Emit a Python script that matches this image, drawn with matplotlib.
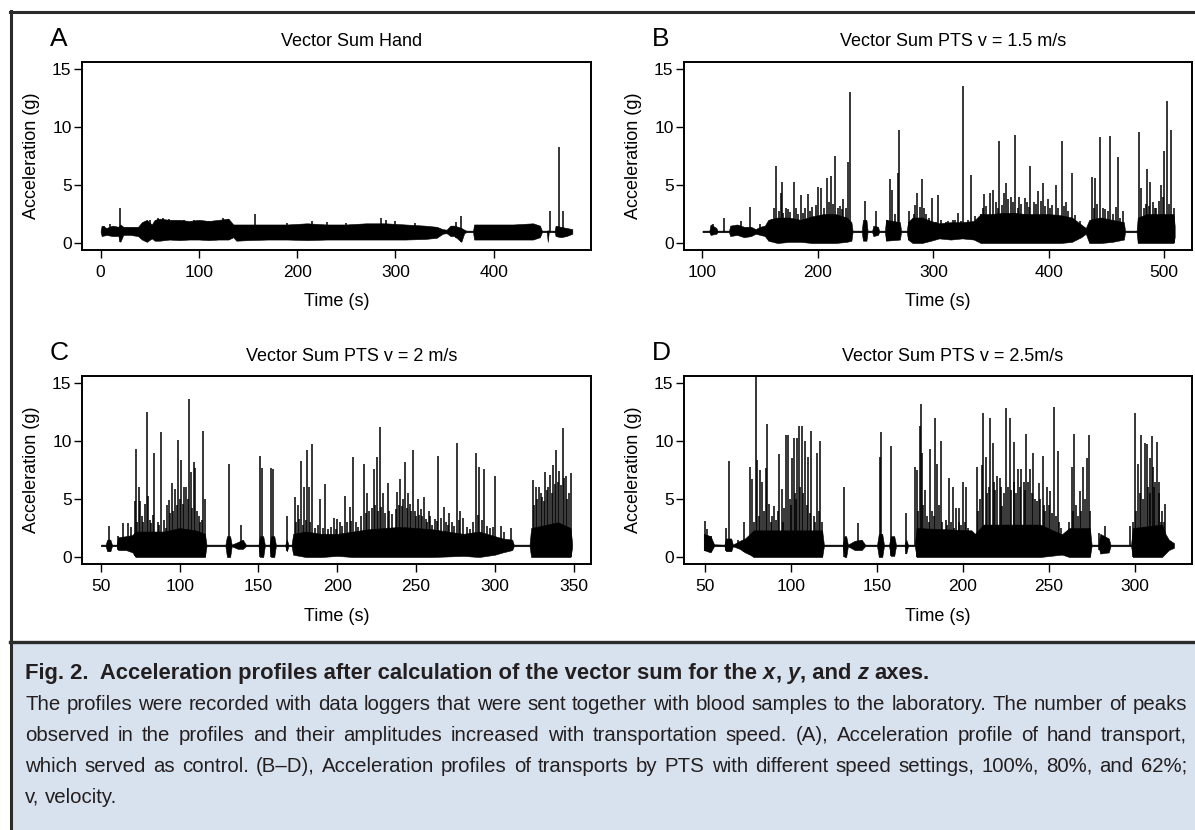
import numpy as np
import matplotlib.pyplot as plt
from matplotlib.lines import Line2D
from matplotlib.patches import Rectangle

plt.rcParams['font.family'] = ['Liberation Sans', 'DejaVu Sans']

W, H = 1195, 830

# ---- values ----
titles = ['Vector Sum Hand', 'Vector Sum PTS v = 1.5 m/s',
          'Vector Sum PTS v = 2 m/s', 'Vector Sum PTS v = 2.5m/s']
letters = ['A', 'B', 'C', 'D']
xticks = [[0, 100, 200, 300, 400], [100, 200, 300, 400, 500],
          [50, 100, 150, 200, 250, 300, 350], [50, 100, 150, 200, 250, 300]]
xlims = [(-19, 499), (84, 524), (38, 361), (37.5, 333.5)]
yticks = [0, 5, 10, 15]

# dense part of the trace: (time, lower edge, upper edge)
a_band = [(0, .93, 1.07), (1, .6, 1.5), (6, .7, 1.3), (12, .6, 1.5), (18, .6, 1.4), (20, .1, 1.6),
          (23, .7, 1.4), (30, .7, 1.4), (38, .6, 1.4), (42, .3, 1.8), (47, .1, 2.0), (52, .4, 1.6),
          (55, .2, 2.0), (60, .2, 2.1), (70, .3, 2.0), (80, .25, 2.0), (90, .3, 1.9), (100, .3, 2.0),
          (110, .25, 1.9), (120, .3, 2.0), (130, .3, 2.1), (135, .5, 1.6), (138, .2, 1.6),
          (150, .25, 1.6), (170, .3, 1.6), (190, .3, 1.6), (210, .25, 1.7), (230, .3, 1.6),
          (250, .3, 1.6), (270, .3, 1.7), (290, .3, 1.7), (310, .3, 1.6), (330, .35, 1.5),
          (342, .45, 1.4), (348, .8, 1.2), (352, .85, 1.15), (356, .6, 1.5), (360, .6, 1.5),
          (367, .1, 1.3), (370, .85, 1.15), (372, .93, 1.07), (379, .93, 1.07), (380, .3, 1.6),
          (400, .3, 1.6), (420, .3, 1.6), (440, .3, 1.7), (447, .5, 1.5), (449, .93, 1.07),
          (454, .93, 1.07), (455, .1, 1.1), (456, .93, 1.07), (462, .93, 1.07), (463, .6, 1.5),
          (468, .5, 1.4), (474, .6, 1.3), (480, .8, 1.2)]
b_band = [(100, .93, 1.07), (106, .93, 1.07), (107, .7, 1.6), (112, .8, 1.3), (113, .93, 1.07),
          (123, .93, 1.07), (124, .6, 1.5), (130, .7, 1.6), (136, .5, 1.4), (142, .6, 1.4),
          (146, .8, 1.2), (150, .7, 1.4), (154, .6, 1.5), (157, .2, 2.0), (165, 0, 2.2),
          (175, .1, 2.2), (185, .1, 2.0), (195, 0, 2.3), (205, 0, 2.5), (215, 0, 2.5),
          (225, .1, 2.2), (229, .2, 1.8), (230, .93, 1.07), (238, .93, 1.07), (239, .2, 2.0),
          (242, .2, 2.0), (243, .93, 1.07), (247, .93, 1.07), (248, .6, 1.5), (252, .7, 1.4),
          (253, .93, 1.07), (258, .93, 1.07), (259, .2, 2.0), (271, .3, 1.8), (272, .93, 1.07),
          (277, .93, 1.07), (278, .3, 1.8), (282, 0, 2.2), (290, 0, 2.2), (298, .2, 1.9),
          (305, .4, 1.7), (315, .3, 1.8), (325, .4, 1.8), (335, .3, 1.9), (341, 0, 2.5),
          (350, 0, 2.5), (360, 0, 2.6), (370, 0, 2.6), (380, 0, 2.5), (390, 0, 2.5),
          (400, 0, 2.5), (410, 0, 2.4), (420, .1, 2.2), (428, .5, 1.6), (432, .8, 1.3),
          (435, 0, 2.0), (445, 0, 2.2), (455, .1, 2.0), (465, .3, 1.8), (466, .93, 1.07),
          (476, .93, 1.07), (477, 0, 2.2), (485, 0, 2.5), (495, 0, 2.5), (508, 0, 2.5),
          (509, .5, 1.5)]
c_band = [(50, .93, 1.07), (53, .93, 1.07), (54, .5, 1.5), (56, .5, 1.5), (57, .93, 1.07),
          (60, .93, 1.07), (61, .6, 1.7), (66, .6, 1.8), (70, .4, 1.9), (72, 0, 2.2),
          (90, 0, 2.2), (100, 0, 2.5), (110, 0, 2.3), (116, 0, 2.0), (117, .93, 1.07),
          (129, .93, 1.07), (130, 0, 1.8), (132, 0, 1.8), (133, .93, 1.07), (137, .7, 1.3),
          (140, .7, 1.5), (142, .93, 1.07), (150, .93, 1.07), (151, 0, 1.8), (153, 0, 1.8),
          (154, .93, 1.07), (157, .93, 1.07), (158, 0, 1.8), (160, 0, 1.8), (161, .93, 1.07),
          (167, .93, 1.07), (168, .5, 1.5), (169, .93, 1.07), (171, .93, 1.07), (172, .2, 2.0),
          (180, 0, 2.2), (190, 0, 2.0), (200, .1, 2.0), (210, 0, 2.2), (220, 0, 2.4),
          (240, 0, 2.6), (260, 0, 2.4), (280, .1, 2.0), (290, 0, 2.2), (300, .2, 1.8),
          (305, .4, 1.6), (311, .6, 1.5), (312, .93, 1.07), (322, .93, 1.07), (323, 0, 2.5),
          (340, 0, 3.0), (348, 0, 2.5), (349, .8, 1.2)]
d_band = [(49, .6, 2.0), (53, .4, 1.8), (55, .93, 1.1), (61, .93, 1.07), (62, .5, 1.6),
          (65, .5, 1.6), (66, .93, 1.07), (70, .7, 1.4), (73, .4, 1.6), (76, .2, 2.0),
          (78, 0, 2.3), (118, 0, 2.3), (119, .93, 1.07), (130, .93, 1.07), (131, 0, 1.8),
          (132, 0, 1.8), (133, .93, 1.07), (137, .6, 1.4), (141, .6, 1.5), (143, .93, 1.07),
          (150, .93, 1.07), (151, 0, 2.0), (153, 0, 2.0), (154, .93, 1.07), (157, .93, 1.07),
          (158, .1, 1.8), (160, .1, 1.8), (161, .93, 1.07), (166, .93, 1.07), (167, .3, 1.5),
          (168, .93, 1.07), (172, .93, 1.07), (173, 0, 2.5), (205, 0, 2.3), (207, 0, 2.0),
          (212, 0, 2.8), (245, 0, 2.8), (257, .2, 2.0), (258, .2, 2.0), (262, 0, 2.5),
          (274, 0, 2.5), (275, .93, 1.07), (279, .93, 1.07), (280, .3, 2.0), (285, .4, 1.6),
          (286, .93, 1.07), (298, .93, 1.07), (299, 0, 2.5), (316, 0, 2.8), (318, .3, 2.0),
          (320, .6, 1.5), (323, .8, 1.2)]

# peaks: (time, peak acceleration)
a_peaks = [(3, 1.5), (10, 1.6), (20, 3.0), (50, 2.0), (58, 2.2), (63, 2.2), (70, 2.1),
           (85, 2.0), (95, 2.0), (110, 1.9), (125, 2.2), (130, 2.1), (157, 2.5), (190, 1.7),
           (215, 1.9), (230, 1.8), (250, 1.7), (285, 2.2), (290, 2.0), (300, 1.9), (320, 1.7),
           (362, 1.8), (367, 2.3), (457, 2.8), (466, 8.3), (470, 2.8)]
b_peaks = [(109, 1.6), (119, 2.2), (133, 1.9), (141, 3.1), (150, 1.6), (160, 2.1), (164, 6.6),
           (168, 4.3), (169, 5.3), (172, 3.0), (179, 5.3), (185, 4.1), (191, 4.2), (198, 3.3),
           (200, 4.8), (203, 4.7), (208, 5.6), (211, 5.8), (215, 7.5), (219, 3.2), (222, 3.8),
           (226, 7.0), (228, 13.0), (241, 3.6), (250, 2.8), (262, 5.5), (264, 4.6), (269, 6.0),
           (270, 9.7), (279, 2.8), (284, 3.3), (286, 4.3), (290, 5.5), (294, 2.5), (299, 3.9),
           (304, 4.1), (311, 1.8), (317, 2.0), (321, 2.6), (326, 13.5), (333, 5.9), (341, 2.5),
           (344, 4.2), (349, 4.3), (352, 4.6), (357, 8.8), (361, 4.3), (363, 5.2), (367, 4.0),
           (371, 9.3), (374, 4.0), (379, 3.9), (384, 6.6), (387, 3.5), (391, 4.5), (395, 5.2),
           (399, 3.8), (406, 5.0), (411, 8.8), (415, 3.5), (420, 6.0), (427, 1.9), (437, 5.7),
           (440, 5.6), (444, 9.1), (449, 2.9), (453, 9.2), (460, 7.4), (464, 2.8), (478, 9.6),
           (480, 4.7), (485, 6.4), (488, 5.3), (493, 3.0), (497, 5.0), (500, 7.9), (502, 12.2),
           (506, 9.7),
           # smaller strokes inside the dense stretches
           (162, 3.0), (166, 2.8), (170, 2.6), (174, 2.9), (176, 2.7), (181, 3.0), (183, 2.5),
           (187, 2.6), (189, 3.0), (193, 2.8), (195, 3.1), (205, 3.0), (210, 3.5), (213, 3.4),
           (217, 3.0), (221, 2.9), (224, 3.0), (260, 2.0), (267, 2.5), (283, 2.5), (288, 3.1),
           (292, 3.0), (296, 2.2), (302, 1.8), (307, 2.0), (313, 1.9), (319, 2.0), (324, 1.9),
           (330, 2.0), (336, 2.3), (343, 3.0), (346, 3.2), (354, 3.5), (356, 3.0), (359, 3.3),
           (365, 3.8), (369, 3.5), (373, 3.0), (376, 3.4), (381, 3.5), (383, 3.1), (389, 3.4),
           (393, 3.6), (397, 3.2), (401, 3.0), (403, 3.3), (408, 3.0), (413, 3.2), (417, 2.8),
           (423, 2.4), (439, 3.0), (442, 3.4), (447, 3.0), (451, 2.8), (456, 2.5), (458, 3.1),
           (462, 2.2), (482, 3.0), (484, 3.4), (487, 3.2), (490, 3.5), (492, 3.0), (495, 3.6),
           (499, 4.0), (504, 3.4), (508, 3.0)]
c_peaks = [(55, 2.7), (61, 1.8), (64, 2.9), (67, 2.9), (69, 2.6), (71.5, 4.8), (72, 9.3),
           (74, 6.0), (75, 4.8), (78, 4.6), (79, 12.5), (80, 5.3), (83, 3.6), (84, 9.0),
           (88, 10.8), (93, 4.9), (95, 6.4), (97, 5.9), (99, 10.1), (101, 8.4), (103, 6.0),
           (104, 6.0), (106, 13.6), (107, 7.3), (109, 8.2), (110, 7.7), (115, 10.9), (116, 5.0),
           (131, 8.0), (139, 2.8), (151, 8.7), (152, 7.7), (158, 7.7), (159, 7.6), (168, 3.5),
           (173, 5.2), (175, 4.5), (177, 8.3), (179, 6.0), (181, 9.2), (182, 6.0), (184, 9.7),
           (189, 5.0), (192, 6.3), (198, 3.4), (200, 3.3), (202, 3.0), (205, 5.3), (208, 4.3),
           (210, 8.6), (213, 2.6), (217, 8.0), (219, 5.5), (223, 7.6), (225, 8.6), (227, 11.2),
           (229, 5.5), (232, 6.4), (238, 5.6), (240, 6.7), (243, 8.2), (245, 5.5), (248, 9.2),
           (251, 5.0), (253, 4.1), (255, 5.2), (258, 4.0), (260, 2.8), (264, 8.7), (268, 4.3),
           (271, 3.8), (276, 9.8), (278, 4.0), (284, 2.4), (288, 9.0), (290, 7.8), (293, 7.6),
           (300, 7.0), (304, 2.7), (306, 2.2), (310, 2.5), (324, 6.6), (326, 6.0), (328, 6.0),
           (332, 7.3), (335, 7.1), (337, 7.9), (339, 9.2), (341, 7.4), (343, 11.1), (345, 7.0),
           (348, 7.2),
           (73, 3.0), (76, 3.5), (77, 3.0), (81, 3.2), (82, 2.9), (86, 3.0), (87, 2.8), (90, 3.2),
           (91, 2.5), (92, 4.5), (94, 3.8), (96, 4.0), (98, 4.5), (100, 5.0), (102, 4.6),
           (105, 5.0), (108, 4.2), (111, 4.0), (112, 3.5), (113, 3.0), (114, 3.2), (174, 3.0),
           (176, 3.3), (178, 2.8), (180, 3.2), (183, 3.0), (186, 2.5), (188, 2.8), (191, 2.5),
           (194, 2.4), (196, 2.6), (199, 2.4), (203, 2.7), (206, 3.0), (209, 3.1), (212, 3.0),
           (215, 3.5), (218, 3.8), (220, 4.0), (222, 4.2), (224, 4.5), (226, 4.0), (228, 4.3),
           (230, 3.8), (233, 4.0), (235, 3.7), (237, 4.1), (239, 4.5), (241, 4.4), (242, 5.0),
           (244, 4.2), (246, 4.6), (247, 4.0), (249, 4.0), (250, 3.5), (252, 3.6), (254, 3.5),
           (256, 3.3), (257, 3.0), (259, 3.5), (262, 3.3), (263, 3.1), (266, 3.4), (269, 3.0),
           (270, 2.8), (273, 3.0), (274, 2.7), (277, 3.2), (280, 3.4), (282, 2.6), (286, 3.0),
           (289, 3.6), (292, 3.2), (295, 2.7), (297, 2.5), (299, 2.6), (325, 4.5), (327, 5.0),
           (329, 5.5), (330, 5.2), (331, 4.8), (333, 5.8), (334, 6.0), (336, 5.5), (338, 6.3),
           (340, 6.5), (342, 6.2), (344, 6.8), (346, 5.0), (347, 5.5)]
d_peaks = [(50, 3.1), (51, 2.4), (53, 1.8), (62, 2.5), (64, 8.3), (69, 1.5), (72.5, 3.0),
           (76, 7.8), (77, 6.7), (79.5, 16.0), (80, 8.4), (82, 7.5), (83, 6.5), (85, 7.7),
           (86, 11.5), (87, 4.6), (90, 4.4), (93, 8.9), (94.5, 5.9), (97, 10.5), (98, 10.5),
           (100.5, 8.5), (101.5, 10.3), (103.5, 10.3), (104.5, 11.3), (106, 11.3), (108, 10.0),
           (110, 8.6), (111.5, 10.9), (115, 9.0), (117, 10.0), (131, 6.0), (139, 2.9),
           (151.5, 8.6), (152, 10.8), (158, 9.6), (167, 3.8), (172, 7.8), (173.5, 7.5),
           (175, 11.3), (175.5, 13.2), (176, 9.0), (178, 5.8), (181, 9.3), (184, 12.0), (185, 8.0),
           (187.5, 10.0), (192, 6.8), (194, 6.0), (196, 4.2), (197.5, 4.2), (200, 6.5), (202, 6.0),
           (205.5, 2.0), (208, 7.8), (211, 7.9), (212, 12.4), (213.5, 8.6), (216, 12.0),
           (217.5, 9.8), (220, 7.0), (221.5, 6.8), (223, 4.4), (225, 12.8), (227.5, 12.0),
           (229.5, 9.9), (232, 7.6), (234, 7.6), (235.5, 6.5), (237, 10.6), (239, 7.6), (241, 9.0),
           (244.5, 6.4), (246.5, 8.7), (249, 6.0), (251, 5.7), (253, 12.9), (255.5, 9.1),
           (261, 2.0), (263.5, 7.8), (265, 10.6), (268, 5.7), (270, 7.8), (272.5, 8.5),
           (273.5, 10.5), (279.5, 2.1), (283, 2.7), (297.5, 2.7), (300, 12.4), (302, 8.0),
           (304, 10.5), (306, 9.8), (307, 9.7), (309, 8.5), (310, 10.4), (311, 7.8), (313, 9.9),
           (314, 6.5), (315.5, 3.0), (318, 4.6),
           (78, 3.0), (81, 3.5), (84, 4.0), (88, 3.0), (89, 3.5), (91, 3.2), (92, 4.0), (95, 3.0),
           (96, 4.2), (99, 5.0), (100, 4.5), (102, 5.5), (103, 5.0), (105, 6.0), (107, 5.5),
           (109, 4.5), (111, 3.8), (113, 3.5), (114, 3.0), (116, 4.0), (118, 3.0), (174, 4.0),
           (177, 4.5), (179, 3.5), (180, 3.0), (182, 4.0), (183, 3.5), (186, 4.5), (188, 3.0),
           (190, 3.2), (191, 2.8), (193, 3.0), (195, 2.5), (198, 3.0), (199, 2.8), (201, 3.0),
           (203, 2.5), (204, 2.0), (209, 4.0), (210, 5.0), (214, 5.5), (215, 6.0), (218, 6.5),
           (219, 5.8), (222, 6.0), (224, 5.5), (226, 6.0), (228, 5.8), (230, 6.5), (231, 5.5),
           (233, 6.0), (236, 5.8), (238, 6.5), (240, 5.5), (242, 5.0), (243, 4.8), (245, 5.0),
           (247, 4.5), (248, 4.0), (250, 4.5), (252, 3.8), (254, 3.5), (256, 3.0), (257, 2.5),
           (262, 3.0), (264, 4.0), (266, 4.5), (267, 3.5), (269, 4.0), (271, 5.0), (274, 4.0),
           (299, 3.0), (301, 4.0), (303, 5.5), (305, 5.0), (308, 6.0), (309, 5.5), (311.5, 6.0),
           (312, 6.5), (314.5, 5.5), (316, 4.0), (317, 3.0)]

bands = [a_band, b_band, c_band, d_band]
peaks = [a_peaks, b_peaks, c_peaks, d_peaks]

caption_head = [('Fig. 2.  Acceleration profiles after calculation of the vector sum for the', 'normal'),
                ('x', 'italic'), (',', 'normal'), ('y', 'italic'), (', and', 'normal'),
                ('z', 'italic'), ('axes.', 'normal')]
caption_lines = [
    'The profiles were recorded with data loggers that were sent together with blood samples to the laboratory. The number of peaks',
    'observed in the profiles and their amplitudes increased with transportation speed. (A), Acceleration profile of hand transport,',
    'which served as control. (B\u2013D), Acceleration profiles of transports by PTS with different speed settings, 100%, 80%, and 62%;',
    'v, velocity.',
]

# ---- layout (pixels) ----
boxes = [(82, 591, 62, 250), (684, 1192, 62, 250), (82, 591, 376, 564), (684, 1192, 376, 564)]


def fx(px):
    return px / W


def fy(py):
    return 1 - py / H


fig = plt.figure(figsize=(W / 100, H / 100), dpi=100)

# frame and caption box
fig.add_artist(Rectangle((fx(11), 0), 1, fy(643), transform=fig.transFigure,
                         facecolor='#d8e1ee', edgecolor='none'))
fig.add_artist(Line2D([fx(10.5), fx(10.5)], [0, fy(11)], transform=fig.transFigure,
                      color='#2b2b2b', lw=2.2))
fig.add_artist(Line2D([fx(9.5), 1], [fy(12), fy(12)], transform=fig.transFigure,
                      color='#2b2b2b', lw=2.2))
fig.add_artist(Line2D([fx(9.5), 1], [fy(642), fy(642)], transform=fig.transFigure,
                      color='#2b2b2b', lw=2.4))

for i in range(4):
    l, r, t, b = boxes[i]
    ax = fig.add_axes([fx(l), fy(b), (r - l) / W, (b - t) / H])
    bt, blo, bhi = map(np.array, zip(*bands[i]))
    ax.fill_between(bt, blo, bhi, color='black', lw=0.4)
    pt, pv = map(np.array, zip(*peaks[i]))
    ax.vlines(pt, np.interp(pt, bt, blo), pv, color='black', lw=1.1)
    ax.set_xlim(*xlims[i])
    ax.set_ylim(-0.6, 15.6)
    ax.set_xticks(xticks[i])
    ax.set_yticks(yticks)
    ax.tick_params(direction='out', length=6, width=1, labelsize=12.5, colors='black')
    ax.tick_params(axis='y', pad=1.5)
    ax.tick_params(axis='x', pad=5)
    for s in ax.spines.values():
        s.set_linewidth(1.4)

    cx = (l + r) / 2
    fig.text(fx(l - 23), fy(t - 23), letters[i], fontsize=19, ha='center', va='center')
    fig.text(fx(cx + 15), fy(t - 20), titles[i], fontsize=13, ha='center', va='center')
    fig.text(fx(l - 50), fy((t + b) / 2), 'Acceleration (g)', fontsize=13,
             rotation=90, ha='center', va='center')
    fig.text(fx(cx), fy(b + 52), 'Time (s)', fontsize=13, ha='center', va='center')

# ---- caption ----
renderer = fig.canvas.get_renderer()
cap_color = '#231f20'
cap_x0, cap_x1 = 25, 1187


def width_of(s, **kw):
    tx = fig.text(0, 0, s, **kw)
    w = tx.get_window_extent(renderer).width
    tx.remove()
    return w


base = 13
space = width_of('a a', fontsize=base) - width_of('aa', fontsize=base)
natural = max(sum(width_of(w, fontsize=base) for w in ln.split()) + space * (len(ln.split()) - 1)
              for ln in caption_lines[:3])
size = min(15, base * (cap_x1 - cap_x0) * 0.985 / natural)
space = width_of('a a', fontsize=size) - width_of('aa', fontsize=size)
head_size = size * 1.08

# bold heading with italic axis letters
x = cap_x0
head_space = width_of('a a', fontsize=head_size, fontweight='bold') - width_of('aa', fontsize=head_size, fontweight='bold')
for k, (piece, style) in enumerate(caption_head):
    kw = dict(fontsize=head_size, fontweight='bold', fontstyle=style, color=cap_color)
    fig.text(fx(x), fy(673), piece, va='center', **kw)
    x += width_of(piece, **kw)
    if k + 1 < len(caption_head) and not caption_head[k + 1][0].startswith(','):
        x += head_space

line_y = [704, 735, 766, 797]
for j, ln in enumerate(caption_lines):
    words = ln.split()
    widths = [width_of(w, fontsize=size) for w in words]
    if j < 3:
        gap = (cap_x1 - cap_x0 - sum(widths)) / (len(words) - 1)
    else:
        gap = space
    x = cap_x0
    for w, wd in zip(words, widths):
        fig.text(fx(x), fy(line_y[j]), w, fontsize=size, color=cap_color, va='center')
        x += wd + gap

fig.savefig('out.png', dpi=100)
